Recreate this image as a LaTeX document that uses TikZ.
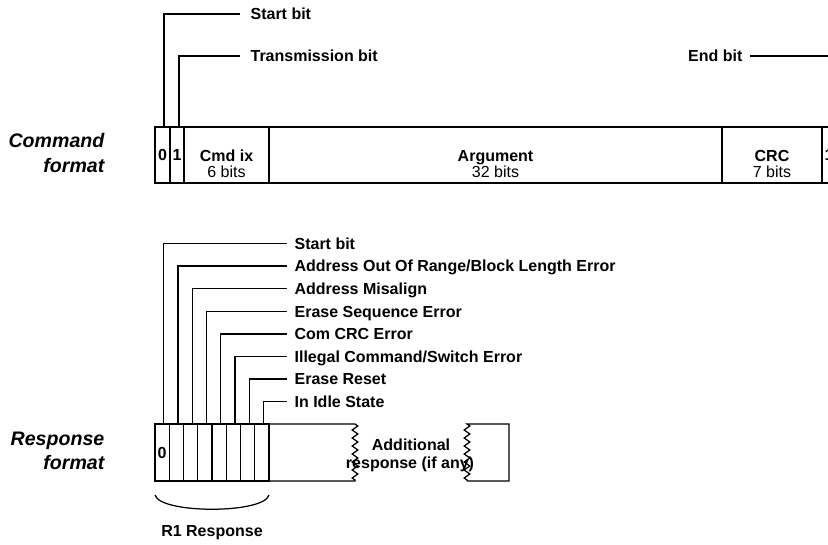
\documentclass[tikz,border=0pt]{standalone}
\usepackage{fontspec}
\setmainfont{Liberation Sans}
\usetikzlibrary{decorations.pathmorphing,calc}
\begin{document}
\begin{tikzpicture}[x=1pt,y=-1pt,
  line width=1.25pt,
  cell/.style={draw, rectangle, inner sep=0pt, outer sep=0pt, anchor=north west,
    font=\fontsize{16}{19}\selectfont\bfseries},
  bitlbl/.style={inner sep=0pt, anchor=west, text height=11.5pt, text depth=0pt,
    font=\fontsize{16}{19}\selectfont\bfseries},
  boldtxt/.style={inner sep=0pt, anchor=base, font=\fontsize{16}{19}\selectfont\bfseries},
  plaintxt/.style={inner sep=0pt, anchor=base, font=\fontsize{16}{19}\selectfont},
  fmtlbl/.style={inner sep=0pt, anchor=base east, font=\fontsize{19.6}{24}\selectfont\bfseries\itshape},
  zig/.style={decoration={zigzag, segment length=8pt, amplitude=2.8pt}}
]
\clip (0,0) rectangle (828,545);

% ---------- Command format ----------
\node[fmtlbl] (cmdA) at (105,148) {Command};
\node[fmtlbl] (cmdB) at (105,172.5) {format};

\node[cell, minimum width=15pt, minimum height=56pt] (c0) at (155,127) {0};
\node[cell, minimum width=14pt, minimum height=56pt] (c1) at (170,127) {1};
\node[cell, minimum width=85pt, minimum height=56pt] (c2) at (184,127) {};
\node[cell, minimum width=453pt, minimum height=56pt] (c3) at (269,127) {};
\node[cell, minimum width=100pt, minimum height=56pt] (c4) at (722,127) {};
\node[cell, minimum width=14pt, minimum height=56pt] (c5) at (822,127) {1};

\node[boldtxt] (cmdix) at (226.5,162) {Cmd ix};
\node[plaintxt] (cmdixb) at (226.5,178) {6 bits};
\node[boldtxt] (arg) at (495.5,162) {Argument};
\node[plaintxt] (argb) at (495.5,178) {32 bits};
\node[boldtxt] (crc) at (772,162) {CRC};
\node[plaintxt] (crcb) at (772,178) {7 bits};

\node[bitlbl] (lstart) at (250,14) {Start bit};
\node[bitlbl] (ltrans) at (250,56) {Transmission bit};
\node[bitlbl, anchor=east] (lend) at (743,56) {End bit};

\draw ([xshift=1.5pt]c0.north) |- ([xshift=-10pt]lstart.west);
\draw ([xshift=2pt]c1.north) |- ([xshift=-10pt]ltrans.west);
\draw ([xshift=7pt]lend.east) -| ([xshift=-0.5pt]c5.north);

% ---------- Response format ----------
\node[fmtlbl] (rspA) at (105,446) {Response};
\node[fmtlbl] (rspB) at (105,470) {format};

\foreach \i/\t in {1/0,2/,3/,4/,5/,6/,7/,8/} {
  \node[cell, minimum width=14.25pt, minimum height=57pt] (r\i) at ({155+14.25*(\i-1)},424) {\t};
}

\draw (r8.north east) -- (355,424) decorate[zig]{-- (355,481)} -- (r8.south east);
\draw (467,481) -- (509,481) -- (509,424) -- (467,424) decorate[zig]{-- (467,481)};

\node[boldtxt] (addA) at (411,450) {Additional};
\node[boldtxt] (addB) at (410,468) {response (if any)};

\foreach \i/\t in {1/{Start bit},
                   2/{Address Out Of Range/Block Length Error},
                   3/{Address Misalign},
                   4/{Erase Sequence Error},
                   5/{Com CRC Error},
                   6/{Illegal Command/Switch Error},
                   7/{Erase Reset},
                   8/{In Idle State}} {
  \node[bitlbl] (rl\i) at (294,{243.5+22.6*(\i-1)}) {\t};
  \draw ([xshift=1.5pt]r\i.north) |- ([xshift=-7pt]rl\i.west);
}

\coordinate (bl) at ($(r1.south west)+(0,14)$);
\coordinate (br) at ($(r8.south east)+(0,14)$);
\draw (bl) .. controls ($(bl)+(5,19)$) and ($(br)+(-5,19)$) .. (br);
\node[boldtxt] (r1lbl) at (212,536.7) {R1 Response};
\end{tikzpicture}
\end{document}
